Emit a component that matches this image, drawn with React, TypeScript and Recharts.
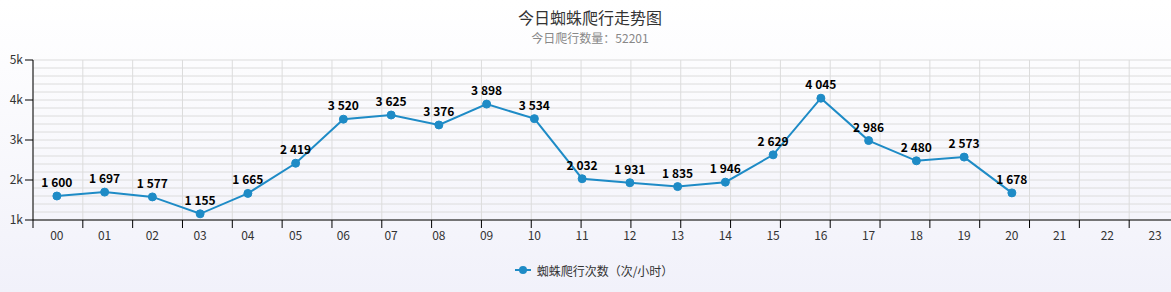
import { LineChart, Line, XAxis, YAxis, CartesianGrid, Legend, LabelList } from "recharts";

const HOURS = ["00", "01", "02", "03", "04", "05", "06", "07", "08", "09", "10", "11", "12", "13", "14", "15", "16", "17", "18", "19", "20", "21", "22", "23"];
const CRAWLS: (number | null)[] = [1600, 1697, 1577, 1155, 1665, 2419, 3520, 3625, 3376, 3898, 3534, 2032, 1931, 1835, 1946, 2629, 4045, 2986, 2480, 2573, 1678, null, null, null];
const MAJOR_TICKS = [1000, 2000, 3000, 4000, 5000];
const MINOR_TICKS = [1000, 1200, 1400, 1600, 1800, 2000, 2200, 2400, 2600, 2800, 3000, 3200, 3400, 3600, 3800, 4000, 4200, 4400, 4600, 4800, 5000];
const BOUNDARY_TICKS = [0, 1, 2, 3, 4, 5, 6, 7, 8, 9, 10, 11, 12, 13, 14, 15, 16, 17, 18, 19, 20, 21, 22, 23, 24];
const SERIES_NAME = "蜘蛛爬行次数（次/小时）";
const TOTAL = 52201;

const FONT = "'Noto Sans CJK SC', 'Noto Sans', sans-serif";
const LINE_COLOR = "#1e8bc6";
const CHART_W = 1180;

const data = HOURS.map((h, i) => ({ hour: h, value: CRAWLS[i] }));

const fmt = (v: number) => String(v).replace(/\B(?=(\d{3})+(?!\d))/g, " ");

function LegendContent() {
  return (
    <div style={{ height: 40, display: "flex", alignItems: "center", justifyContent: "center", paddingLeft: 9, fontFamily: FONT, fontSize: 12, color: "#333" }}>
      <svg width={16} height={10} style={{ marginRight: 6 }}>
        <line x1={0} y1={5} x2={16} y2={5} stroke={LINE_COLOR} strokeWidth={2} />
        <circle cx={8} cy={5} r={4} fill={LINE_COLOR} />
      </svg>
      {SERIES_NAME}
    </div>
  );
}

// minor grid every 200, taken from the y axis scale
const minorGrid = ({ yAxis, offset }: any) =>
  MINOR_TICKS.map((t) =>
    yAxis && typeof yAxis.scale === "function"
      ? yAxis.scale(t)
      : offset.top + (offset.height * (5000 - t)) / 4000
  );

export default function App() {
  return (
    <div
      style={{
        position: "absolute",
        left: 0,
        top: 0,
        width: 1171,
        height: 292,
        overflow: "hidden",
        background: "linear-gradient(180deg, #ffffff 0%, #f7f7fc 60%, #f1f1fa 100%)",
        fontFamily: FONT,
      }}
    >
      {/* Title */}
      <div style={{ position: "absolute", left: 0, width: CHART_W, top: 5, textAlign: "center", fontSize: 16, color: "#333", lineHeight: "24px" }}>
        今日蜘蛛爬行走势图
      </div>
      <div style={{ position: "absolute", left: 0, width: CHART_W, top: 29, textAlign: "center", fontSize: 12, color: "#888", lineHeight: "18px" }}>
        今日爬行数量：{TOTAL}
      </div>

      <LineChart width={CHART_W} height={292} data={data} margin={{ top: 60, right: 1, left: 0, bottom: 2 }}>
        <CartesianGrid xAxisId="bound" yAxisId="main" stroke="#dcdcdc" strokeWidth={1} horizontalCoordinatesGenerator={minorGrid} />
        <XAxis
          xAxisId="bound"
          type="number"
          domain={[0, 24]}
          ticks={BOUNDARY_TICKS}
          height={1}
          tickFormatter={() => ""}
          tickLine={{ stroke: "#000" }}
          axisLine={{ stroke: "#000" }}
          tickSize={8}
        />
        <XAxis
          xAxisId="cat"
          dataKey="hour"
          scale="band"
          height={29}
          axisLine={false}
          tickLine={false}
          tick={{ fill: "#333", fontSize: 12, fontFamily: FONT }}
          tickMargin={4}
          interval={0}
        />
        <YAxis
          yAxisId="main"
          domain={[1000, 5000]}
          ticks={MAJOR_TICKS}
          width={33}
          tickFormatter={(v: number) => `${v / 1000}k`}
          tick={{ fill: "#333", fontSize: 12, fontFamily: FONT }}
          axisLine={{ stroke: "#000" }}
          tickLine={{ stroke: "#000" }}
          tickSize={8}
          tickMargin={2}
        />
        <Legend verticalAlign="bottom" height={40} content={() => <LegendContent />} />
        <Line
          xAxisId="cat"
          yAxisId="main"
          dataKey="value"
          name={SERIES_NAME}
          stroke={LINE_COLOR}
          strokeWidth={2}
          dot={{ r: 4, fill: LINE_COLOR, stroke: LINE_COLOR, strokeWidth: 1 }}
          isAnimationActive={false}
        >
          <LabelList
            dataKey="value"
            position="top"
            offset={9}
            formatter={(v: any) => (v == null ? "" : fmt(v))}
            style={{ fill: "#000", fontSize: 12, fontWeight: 700, fontFamily: FONT }}
          />
        </Line>
      </LineChart>
    </div>
  );
}
